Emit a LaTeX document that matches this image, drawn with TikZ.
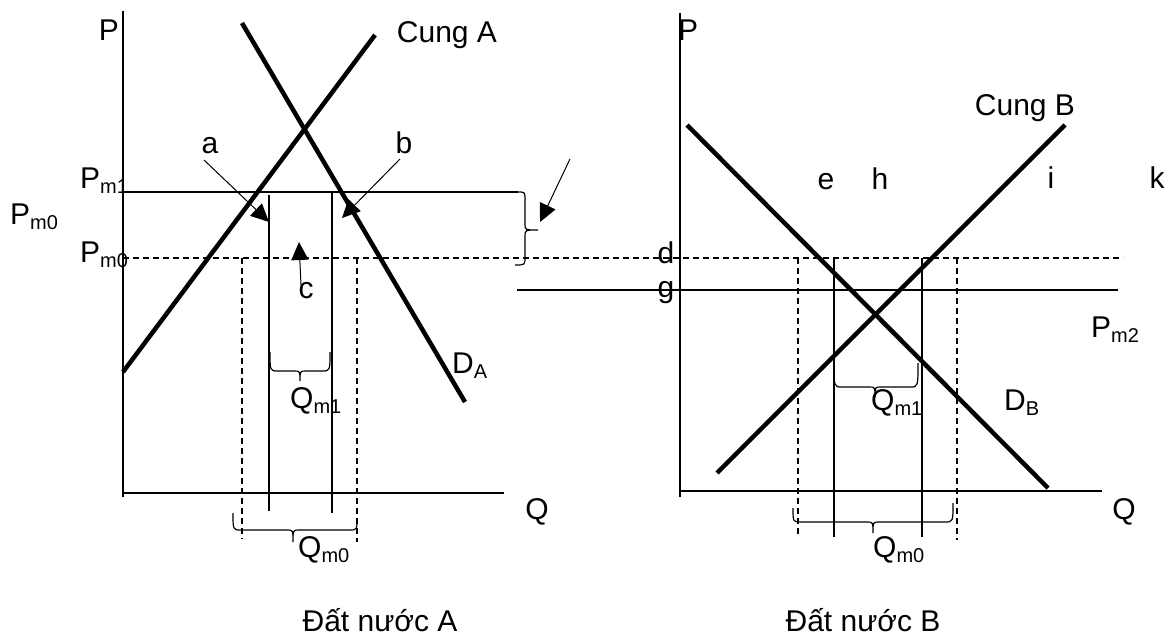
\documentclass[tikz,border=0pt]{standalone}
\usepackage{fontspec}
\setmainfont{Liberation Sans}
\usetikzlibrary{arrows.meta}
\newcommand\sbs[1]{\raisebox{-5pt}{\fontsize{20}{20}\selectfont #1}}
% horizontal brace: x1,y1 (left end), x2,y2 (right end), yh (level), xt, yt (tip)
\newcommand\hbr[7]{\draw[brc] (#1,#2) .. controls (#1,#5) .. (#1+8,#5) -- (#6-6,#5) .. controls (#6,#5) .. (#6,#7) .. controls (#6,#5) .. (#6+6,#5) -- (#3-8,#5) .. controls (#3,#5) .. (#3,#4);}
\begin{document}
\begin{tikzpicture}[x=1pt,y=-1pt,
  thinl/.style={line width=1.2pt},
  curve/.style={line width=4.5pt},
  dsh/.style={line width=1.2pt, dash pattern=on 6pt off 4pt},
  lbl/.style={inner sep=0pt, anchor=base, font=\fontsize{30}{36}\selectfont},
  lblw/.style={lbl, anchor=base west},
  arr/.style={line width=1pt, -{Triangle[length=18pt,width=17pt]}},
  brc/.style={line width=1.2pt}]
\useasboundingbox (0,0) rectangle (1168,637);

% ---------- axes ----------
\draw[thinl] (123,11) -- (123,497);
\draw[thinl] (123,493) -- (504,493);
\draw[thinl] (680,13) -- (680,497);
\draw[thinl] (680,491) -- (1102,491);

% ---------- price lines ----------
\draw[thinl] (123,192) -- (518,192);
\draw[dsh] (123,258) -- (1123,258);
\draw[thinl] (517,290) -- (1118,290);

% ---------- verticals, country A ----------
\draw[thinl] (269,195) -- (269,511);
\draw[thinl] (332,192) -- (332,513);
\draw[dsh] (242,258) -- (242,539);
\draw[dsh] (357,258) -- (357,542);

% ---------- verticals, country B ----------
\draw[thinl] (834,258) -- (834,537);
\draw[thinl] (922,258) -- (922,537);
\draw[dsh] (798,258) -- (798,537);
\draw[dsh] (957,258) -- (957,540);

% ---------- supply / demand ----------
\draw[curve] (123,372) -- (375,35);
\draw[curve] (242,23) -- (465,402);
\draw[curve] (687,125) -- (1048,488);
\draw[curve] (717,473) -- (1065,125);

% ---------- braces ----------
\hbr{270}{352}{330}{352}{371}{300}{381}
\hbr{233}{513}{357}{518}{530}{293}{542}
\hbr{834}{363}{918}{363}{387}{875}{397}
\hbr{793}{508}{953}{503}{522}{873}{533}
\draw[brc] (518,192) .. controls (525,192) .. (525,200) -- (525,224) .. controls (525,230) .. (538,230) .. controls (525,230) .. (525,236) -- (525,257) .. controls (525,265) .. (515,265);

% ---------- arrows ----------
\coordinate (as) at (204,160); \coordinate (at) at (269,222);
\coordinate (bs) at (400,159); \coordinate (bt) at (342,218);
\coordinate (cs) at (301,285); \coordinate (ct) at (299,242);
\coordinate (ks) at (570,159); \coordinate (kt) at (540,222);
\draw[arr] (as) -- (at);
\draw[arr] (bs) -- (bt);
\draw[arr] (cs) -- (ct);
\draw[arr] (ks) -- (kt);

% ---------- labels, country A ----------
\node[lbl] (P1) at (109,40) {P};
\node[lbl] (cungA) at (447,42) {Cung A};
\node[lbl] (la) at (210,153) {a};
\node[lbl] (lb) at (404,153) {b};
\node[lbl] (lc) at (306,298) {c};
\node[lblw] (pm1) at (80,188) {P\sbs{m1}};
\node[lblw] (pm0l) at (10,224) {P\sbs{m0}};
\node[lblw] (pm0) at (80,262) {P\sbs{m0}};
\node[lblw] (da) at (452,373) {D\sbs{A}};
\node[lblw] (qm1a) at (290,408) {Q\sbs{m1}};
\node[lblw] (qm0a) at (298,557) {Q\sbs{m0}};
\node[lbl] (qa) at (537,519) {Q};
\node[lbl] (titleA) at (380,631) {Đất nước A};

% ---------- labels, country B ----------
\node[lblw] (P2) at (678,40) {P};
\node[lbl] (cungB) at (1025,115) {Cung B};
\node[lbl] (le) at (826,189) {e};
\node[lbl] (lh) at (880,189) {h};
\node[lbl] (li) at (1051,188) {i};
\node[lbl] (lk) at (1157,188) {k};
\node[lbl] (ld) at (666,263) {d};
\node[lbl] (lg) at (666,297) {g};
\node[lblw] (pm2) at (1091,337) {P\sbs{m2}};
\node[lblw] (db) at (1004,410) {D\sbs{B}};
\node[lblw] (qm1b) at (871,410) {Q\sbs{m1}};
\node[lblw] (qm0b) at (873,557) {Q\sbs{m0}};
\node[lbl] (qb) at (1124,519) {Q};
\node[lbl] (titleB) at (863,631) {Đất nước B};
\end{tikzpicture}
\end{document}
